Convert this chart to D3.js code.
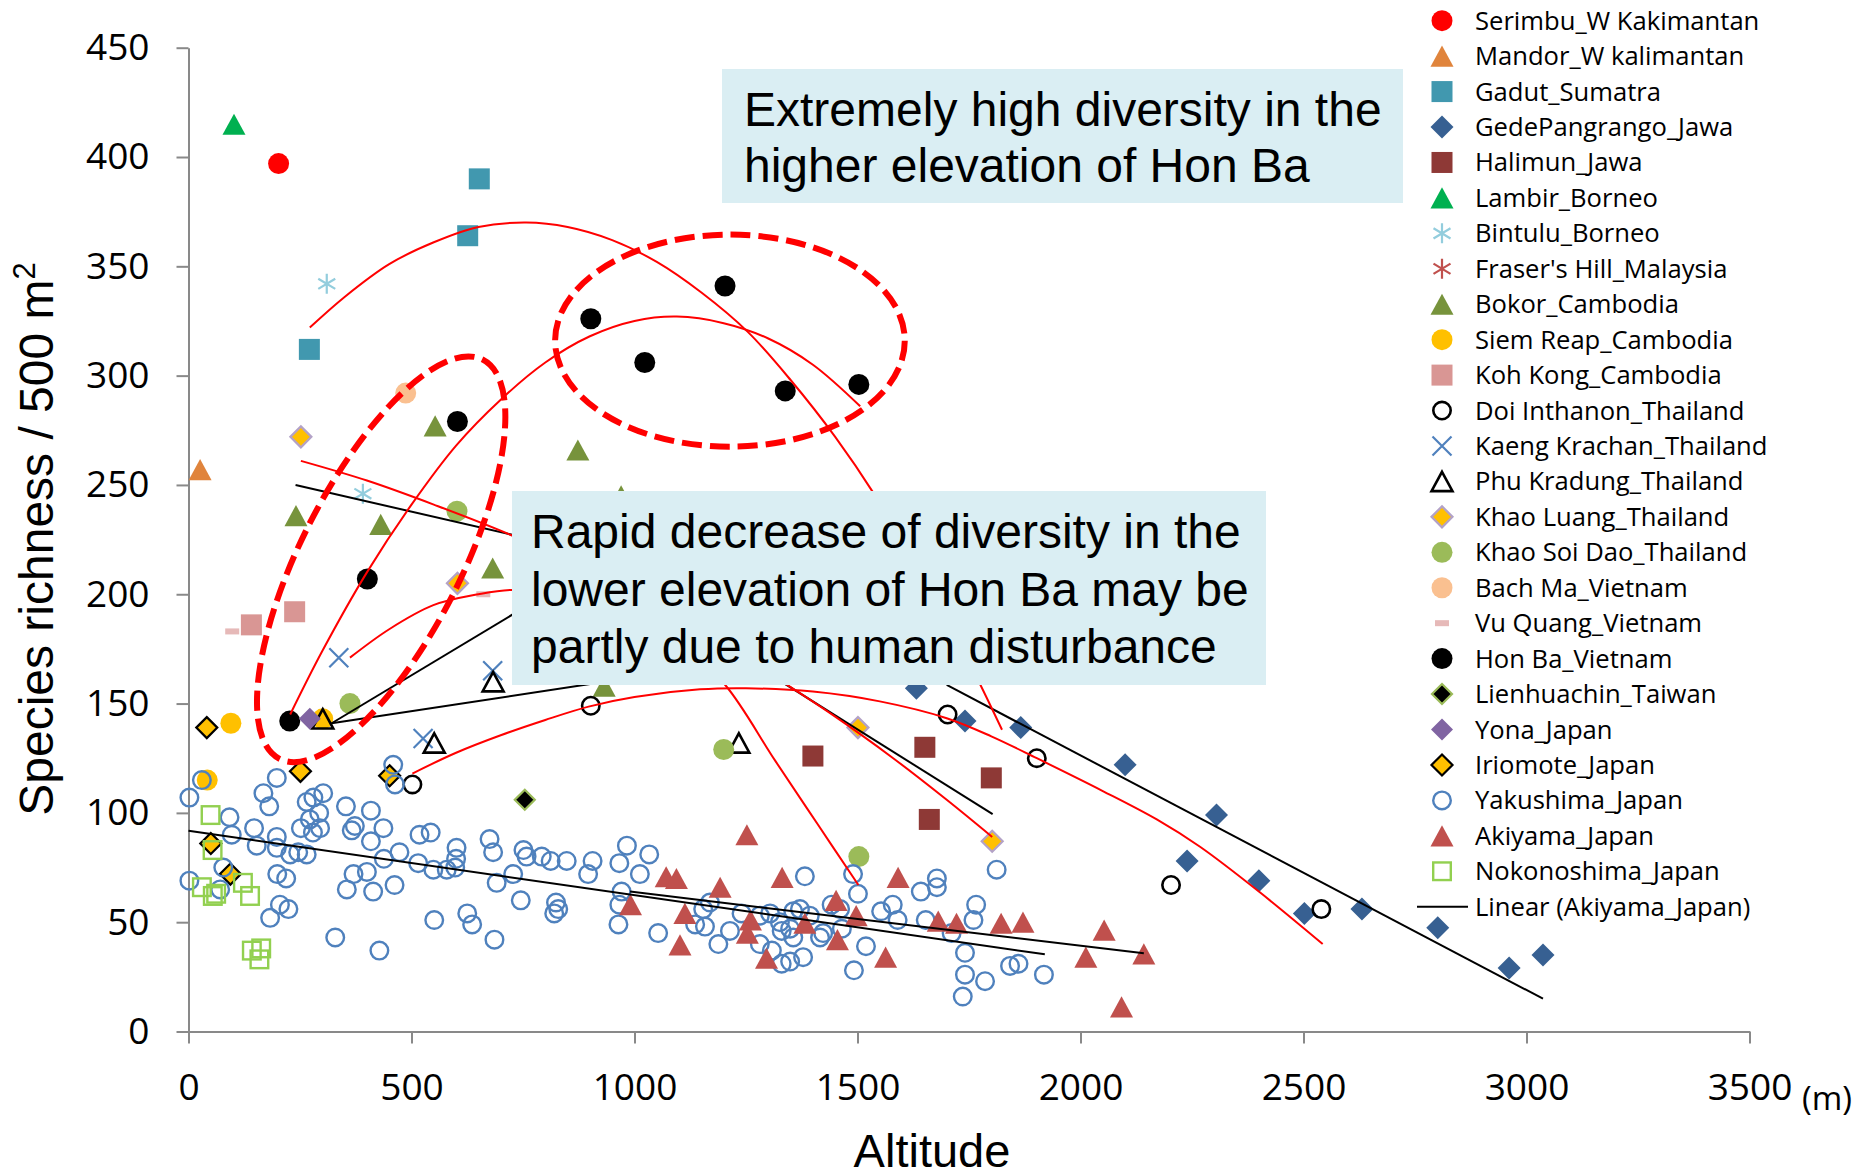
<!DOCTYPE html>
<html lang="en">
<head>
<meta charset="utf-8">
<title>Species richness vs altitude</title>
<script src="https://d3js.org/d3.v7.min.js"></script>
<style>
  body { margin: 0; background: #fff; }
  .legend-label { font-family: "Open Sans", sans-serif; font-size: 25.6px; fill: #000; }
  .axis-title { font-family: "Liberation Sans", Arial, sans-serif; fill: #000; }
  .note { font-family: "Liberation Sans", Arial, sans-serif; font-size: 48px; fill: #000; }
</style>
</head>
<body>
<div id="vis"></div>
<script>
// ---- data (altitude m, species / 500 m2) ----
const serimbu = [[202, 397]];
const mandor = [[26, 257]];
const gadut = [[271, 312], [626, 364], [652, 390]];
const gedePangrango = [[1632, 157], [1741, 142], [1866, 139], [2100, 122], [2305, 99], [2239, 78],
  [2400, 69], [2502, 54], [2631, 56], [2801, 47.5], [2961, 29], [3037, 35]];
const halimun = [[1400, 126], [1651, 130], [1661, 97], [1800, 116]];
const lambir = [[102, 415]];
const bintulu = [[310, 342], [391, 246]];
const frasersHill = [];
const bokor = [[241, 236], [431, 232], [553, 277], [682, 212], [873, 266], [970, 245], [932, 158]];
const siemReap = [[95, 141], [301, 143], [42, 115]];
const kohKong = [[141, 186], [238, 192]];
const doiInthanon = [[502, 113], [902, 149], [1702, 145], [1902, 125], [2203, 67], [2540, 56]];
const kaengKrachan = [[337, 171], [526, 134], [682, 165]];
const phuKradung = [[301, 143], [551, 132], [683, 160], [1234, 132]];
const khaoLuang = [[252, 272], [603, 205], [1501, 139], [1802, 87]];
const khaoSoiDao = [[362, 150], [602, 238], [1200, 129], [1503, 80]];
const bachMa = [[487, 292]];
const vuQuang = [[98, 183], [661, 200]];
const honBa = [[227, 142], [401, 207], [603, 279], [902, 326], [1023, 306], [1203, 341], [1338, 293], [1503, 296]];
const lienhuachin = [[754, 106]];
const yona = [[272, 143]];
const iriomote = [[41, 139], [251, 119], [451, 117], [50, 86], [94, 72]];
const yakushima = [
  [30, 115], [2, 107], [198, 116], [168, 109], [181, 103], [92, 98], [97, 90], [147, 93], [153, 85], [198, 89],
  [198, 84], [78, 75], [2, 69], [71, 65], [265, 105], [280, 107], [302, 109], [293, 100], [272, 97], [252, 93],
  [295, 93], [279, 91], [228, 81], [246, 82], [265, 81], [199, 72], [219, 70], [205, 58], [224, 56], [183, 52],
  [353, 103], [409, 101], [366, 92], [373, 94], [437, 93], [409, 87], [473, 82], [438, 79], [400, 73], [370, 72],
  [355, 65], [414, 64], [462, 67], [329, 43], [428, 37], [518, 90], [543, 91], [515, 77], [549, 74], [579, 74],
  [601, 84], [600, 79], [598, 75], [675, 88], [683, 82], [691, 68], [751, 83], [758, 80], [728, 72], [745, 60],
  [792, 80], [812, 78], [848, 78], [824, 59], [820, 54], [829, 56], [906, 78], [896, 72], [983, 85], [966, 77],
  [1033, 81], [1012, 72], [971, 64], [966, 58], [964, 49], [1053, 45], [551, 51], [625, 54], [636, 49], [686, 42],
  [459, 122], [463, 113], [1382, 71], [1490, 72], [1501, 63], [1169, 59], [1154, 56], [1136, 49], [1158, 48],
  [1240, 54], [1214, 46], [1188, 40], [1281, 53], [1304, 54], [1326, 50], [1349, 47], [1371, 56], [1393, 53],
  [1356, 55], [1330, 46], [1356, 43], [1281, 40], [1308, 37], [1330, 31], [1349, 32], [1378, 34], [1416, 43],
  [1423, 45], [1442, 58], [1461, 56], [1465, 47], [1519, 39], [1492, 28], [1553, 55], [1579, 58], [1590, 51],
  [1642, 64], [1678, 70], [1678, 66], [1653, 51], [1711, 45], [1741, 36], [1741, 26], [1736, 16], [1786, 23],
  [1766, 58], [1760, 51], [1842, 30], [1861, 31], [1918, 26], [1812, 74]];
const akiyama = [[1252, 90], [1192, 66], [1331, 70.5], [1591, 70.5], [1452, 60], [1497, 53], [1260, 51],
  [1253, 45], [1382, 49.5], [1455, 42], [1296, 33.5], [1563, 34], [1681, 50.5], [1722, 49.5], [1822, 49.5],
  [1871, 50], [2053, 46.4], [2012, 34], [2142, 35.5], [2092, 11.3], [1071, 70.8], [1094, 70], [991, 58],
  [1113, 54], [1102, 39.6]];
const nokonoshima = [[49.5, 99], [54, 83], [30, 66], [54.5, 62], [62, 63], [122, 68], [138, 62], [142, 37], [163, 38], [159, 33]];

const seriesNames = ["Serimbu_W Kakimantan", "Mandor_W kalimantan", "Gadut_Sumatra", "GedePangrango_Jawa",
  "Halimun_Jawa", "Lambir_Borneo", "Bintulu_Borneo", "Fraser's Hill_Malaysia", "Bokor_Cambodia",
  "Siem Reap_Cambodia", "Koh Kong_Cambodia", "Doi Inthanon_Thailand", "Kaeng Krachan_Thailand",
  "Phu Kradung_Thailand", "Khao Luang_Thailand", "Khao Soi Dao_Thailand", "Bach Ma_Vietnam",
  "Vu Quang_Vietnam", "Hon Ba_Vietnam", "Lienhuachin_Taiwan", "Yona_Japan", "Iriomote_Japan",
  "Yakushima_Japan", "Akiyama_Japan", "Nokonoshima_Japan"];
const seriesValues = [serimbu, mandor, gadut, gedePangrango, halimun, lambir, bintulu, frasersHill, bokor,
  siemReap, kohKong, doiInthanon, kaengKrachan, phuKradung, khaoLuang, khaoSoiDao, bachMa, vuQuang, honBa,
  lienhuachin, yona, iriomote, yakushima, akiyama, nokonoshima];

// trend lines (black = linear, red = polynomial)
const trendYakushima = [[0, 91.8], [1920, 35.3]];
const trendAkiyama = [[990, 64], [2142, 35.8]];
const trendGede = [[1700, 158.5], [3037, 15]];
const trendBlackA = [[240, 250], [900, 219]];
const trendBlackB = [[321, 141], [900, 212]];
const trendBlackC = [[321, 141], [1000, 162]];
const trendBlackD = [[1200, 176.6], [1803, 99.4]];
const curveUpper = [[272, 322], [350, 336], [450, 351], [550, 361], [650, 368], [757, 370], [850, 368], [950, 362],
  [1050, 352], [1150, 338], [1254, 320], [1350, 298], [1450, 272], [1540, 245], [1650, 207], [1750, 169], [1824, 138]];
const curveHonBa = [[228, 145], [300, 174], [400, 210], [500, 241], [600, 268], [700, 289], [800, 306], [900, 318],
  [1000, 325], [1095, 327], [1200, 324], [1300, 317], [1400, 305], [1506, 286]];
const curveKhaoLuang = [[252, 261], [400, 252], [550, 241], [724, 227], [900, 210], [1100, 189], [1300, 164],
  [1450, 144], [1580, 125], [1700, 106], [1802, 89]];
const curveKhaoSoiDao = [[362, 171], [450, 184], [549, 195], [650, 200], [724, 202], [850, 200], [1000, 191],
  [1100, 178], [1203, 158.6], [1315, 124], [1410, 95], [1502, 67]];
const curveDoi = [[502, 118], [600, 127.5], [700, 135.5], [800, 142.5], [897, 148.6], [1000, 153], [1147, 156.5],
  [1250, 157], [1400, 155.5], [1550, 151], [1700, 143.3], [1800, 135], [1902, 125], [2050, 110], [2171, 97],
  [2268, 84.5], [2400, 64], [2543, 40]];

const xTicks = [0, 500, 1000, 1500, 2000, 2500, 3000, 3500];
const yTicks = [0, 50, 100, 150, 200, 250, 300, 350, 400, 450];

// ---- styles ----
const style = {
  "Serimbu_W Kakimantan": {shape: "circle", size: 21, fill: "#FF0000"},
  "Mandor_W kalimantan": {shape: "triangle", size: 23, fill: "#E0843C"},
  "Gadut_Sumatra": {shape: "square", size: 21, fill: "#4198AF"},
  "GedePangrango_Jawa": {shape: "diamond", size: 23, fill: "#376092"},
  "Halimun_Jawa": {shape: "square", size: 21, fill: "#8E3936"},
  "Lambir_Borneo": {shape: "triangle", size: 23, fill: "#00B050"},
  "Bintulu_Borneo": {shape: "asterisk", size: 20, stroke: "#93CDDD", sw: 2.2},
  "Fraser's Hill_Malaysia": {shape: "asterisk", size: 20, stroke: "#C0504D", sw: 2.2},
  "Bokor_Cambodia": {shape: "triangle", size: 23, fill: "#77933C"},
  "Siem Reap_Cambodia": {shape: "circle", size: 21, fill: "#FFC000"},
  "Koh Kong_Cambodia": {shape: "square", size: 21, fill: "#D99694"},
  "Doi Inthanon_Thailand": {shape: "circle", size: 20, fill: "none", stroke: "#000", sw: 2.6},
  "Kaeng Krachan_Thailand": {shape: "x", size: 19, stroke: "#4F81BD", sw: 2.2},
  "Phu Kradung_Thailand": {shape: "triangle", size: 21, fill: "none", stroke: "#000", sw: 2.6},
  "Khao Luang_Thailand": {shape: "diamond", size: 21, fill: "#FFC000", stroke: "#B3A2C7", sw: 2.2},
  "Khao Soi Dao_Thailand": {shape: "circle", size: 21, fill: "#9BBB59"},
  "Bach Ma_Vietnam": {shape: "circle", size: 21, fill: "#FAC090"},
  "Vu Quang_Vietnam": {shape: "dash", size: 14, fill: "#E6B9B8"},
  "Hon Ba_Vietnam": {shape: "circle", size: 21, fill: "#000"},
  "Lienhuachin_Taiwan": {shape: "diamond", size: 20, fill: "#000", stroke: "#9BBB59", sw: 2.2},
  "Yona_Japan": {shape: "diamond", size: 22, fill: "#8064A2"},
  "Iriomote_Japan": {shape: "diamond", size: 21, fill: "#FFC000", stroke: "#000", sw: 2.2},
  "Yakushima_Japan": {shape: "circle", size: 20, fill: "none", stroke: "#4F81BD", sw: 2.4},
  "Akiyama_Japan": {shape: "triangle", size: 23, fill: "#C0504D"},
  "Nokonoshima_Japan": {shape: "square", size: 20, fill: "none", stroke: "#92D050", sw: 2.4}
};

const width = 1867, height = 1176;
const axisGrey = "#898989";

const x = d3.scaleLinear().domain([0, 3500]).range([188.5, 1749.5]);
const y = d3.scaleLinear().domain([0, 450]).range([1031.5, 47.7]);

const svg = d3.select("#vis").append("svg")
  .attr("width", width).attr("height", height);

function drawMarker(g, st) {
  const s = st.size, h = s / 2;
  const fill = st.fill || "none", stroke = st.stroke || "none", sw = st.sw || 0;
  if (st.shape === "circle") {
    g.append("circle").attr("r", h - sw / 2).attr("fill", fill).attr("stroke", stroke).attr("stroke-width", sw);
  } else if (st.shape === "square") {
    g.append("rect").attr("x", -h + sw / 2).attr("y", -h + sw / 2)
      .attr("width", s - sw).attr("height", s - sw)
      .attr("fill", fill).attr("stroke", stroke).attr("stroke-width", sw);
  } else if (st.shape === "triangle") {
    const w = s, th = s * 0.92;
    g.append("path").attr("d", `M0,${-th / 2}L${w / 2},${th / 2}L${-w / 2},${th / 2}Z`)
      .attr("fill", fill).attr("stroke", stroke).attr("stroke-width", sw).attr("stroke-linejoin", "miter");
  } else if (st.shape === "diamond") {
    g.append("path").attr("d", `M0,${-h}L${h},0L0,${h}L${-h},0Z`)
      .attr("fill", fill).attr("stroke", stroke).attr("stroke-width", sw);
  } else if (st.shape === "x") {
    g.append("path").attr("d", `M${-h},${-h}L${h},${h}M${-h},${h}L${h},${-h}`)
      .attr("stroke", stroke).attr("stroke-width", sw);
  } else if (st.shape === "asterisk") {
    const a = h * 0.85;
    g.append("path").attr("d", `M${-a},${-a * 0.6}L${a},${a * 0.6}M${-a},${a * 0.6}L${a},${-a * 0.6}M0,${-h}L0,${h}`)
      .attr("stroke", stroke).attr("stroke-width", sw);
  } else if (st.shape === "dash") {
    g.append("rect").attr("x", -s / 2).attr("y", -3).attr("width", s).attr("height", 6).attr("fill", fill);
  }
}

// ---- axes ----
const gy = svg.append("g").attr("transform", `translate(${x(0)},0)`)
  .call(d3.axisLeft(y).tickValues(yTicks).tickFormat(d3.format("d")).tickSize(12).tickSizeOuter(0).tickPadding(27));
const gx = svg.append("g").attr("transform", `translate(0,${y(0)})`)
  .call(d3.axisBottom(x).tickValues(xTicks).tickFormat(d3.format("d")).tickSize(12).tickSizeOuter(0).tickPadding(30));
[gx, gy].forEach(g => {
  g.select(".domain").attr("stroke", axisGrey).attr("stroke-width", 2);
  g.selectAll(".tick line").attr("stroke", axisGrey).attr("stroke-width", 2);
  g.selectAll(".tick text").attr("fill", "#000")
    .attr("font-family", "'Open Sans', sans-serif").attr("font-size", 37);
});

// ---- points ----
const plot = svg.append("g");
seriesNames.forEach((name, i) => {
  const st = style[name];
  plot.append("g").selectAll("g").data(seriesValues[i]).enter().append("g")
    .attr("transform", d => `translate(${x(d[0])},${y(d[1])})`)
    .each(function () { drawMarker(d3.select(this), st); });
});

// ---- trend lines ----
const straight = d3.line().x(d => x(d[0])).y(d => y(d[1]));
const smooth = d3.line().x(d => x(d[0])).y(d => y(d[1])).curve(d3.curveCatmullRom);
[trendYakushima, trendAkiyama, trendGede, trendBlackA, trendBlackB, trendBlackC, trendBlackD].forEach(t => {
  svg.append("path").attr("d", straight(t)).attr("fill", "none").attr("stroke", "#000").attr("stroke-width", 2);
});
[curveUpper, curveHonBa, curveKhaoLuang, curveKhaoSoiDao, curveDoi].forEach(t => {
  svg.append("path").attr("d", smooth(t)).attr("fill", "none").attr("stroke", "#FF0000").attr("stroke-width", 2);
});

// ---- dashed ellipses ----
const highZone = {cx: 1214, cy: 316, rx: 392, ry: 48.5};
svg.append("ellipse")
  .attr("cx", x(highZone.cx)).attr("cy", y(highZone.cy))
  .attr("rx", x(highZone.rx) - x(0)).attr("ry", y(0) - y(highZone.ry))
  .attr("fill", "none").attr("stroke", "#FF0000").attr("stroke-width", 6).attr("stroke-dasharray", "20 8");
const lowZone = {cx: 432, cy: 216, a: 224, b: 80, angle: -63};
svg.append("ellipse")
  .attr("transform", `translate(${x(lowZone.cx)},${y(lowZone.cy)}) rotate(${lowZone.angle})`)
  .attr("rx", lowZone.a).attr("ry", lowZone.b)
  .attr("fill", "none").attr("stroke", "#FF0000").attr("stroke-width", 6).attr("stroke-dasharray", "20 8");

// ---- notes ----
const noteFill = "#DAEEF3";
svg.append("rect").attr("x", 722).attr("y", 69).attr("width", 681).attr("height", 134).attr("fill", noteFill);
svg.append("text").attr("class", "note").attr("x", 744).attr("y", 126).text("Extremely high diversity in the");
svg.append("text").attr("class", "note").attr("x", 744).attr("y", 182).text("higher elevation of Hon Ba");

svg.append("rect").attr("x", 512).attr("y", 491).attr("width", 754).attr("height", 194).attr("fill", noteFill);
svg.append("text").attr("class", "note").attr("x", 531).attr("y", 548).text("Rapid decrease of diversity in the");
svg.append("text").attr("class", "note").attr("x", 531).attr("y", 606).text("lower elevation of Hon Ba may be");
svg.append("text").attr("class", "note").attr("x", 531).attr("y", 663).text("partly due to human disturbance");

// ---- axis titles ----
const yt = svg.append("text").attr("class", "axis-title")
  .attr("transform", "translate(53,539) rotate(-90)")
  .attr("text-anchor", "middle").attr("font-size", 48);
yt.append("tspan").text("Species richness / 500 m");
yt.append("tspan").attr("dy", -18).attr("font-size", 31).text("2");

svg.append("text").attr("class", "axis-title")
  .attr("x", 932).attr("y", 1167).attr("text-anchor", "middle").attr("font-size", 47)
  .text("Altitude");
svg.append("text")
  .attr("x", 1802).attr("y", 1110)
  .attr("font-family", "'Open Sans', sans-serif").attr("font-size", 33)
  .text("(m)");

// ---- legend ----
const legend = svg.append("g");
const rowY = i => 20.7 + i * 35.44;
seriesNames.forEach((name, i) => {
  const row = legend.append("g").attr("transform", `translate(0,${rowY(i)})`);
  drawMarker(row.append("g").attr("transform", "translate(1442,0)"), style[name]);
  row.append("text").attr("class", "legend-label").attr("x", 1475).attr("y", 9).text(name);
});
const linRow = legend.append("g").attr("transform", `translate(0,${rowY(seriesNames.length)})`);
linRow.append("line").attr("x1", 1417).attr("x2", 1468).attr("stroke", "#000").attr("stroke-width", 2);
linRow.append("text").attr("class", "legend-label").attr("x", 1475).attr("y", 9).text("Linear (Akiyama_Japan)");
</script>
</body>
</html>
